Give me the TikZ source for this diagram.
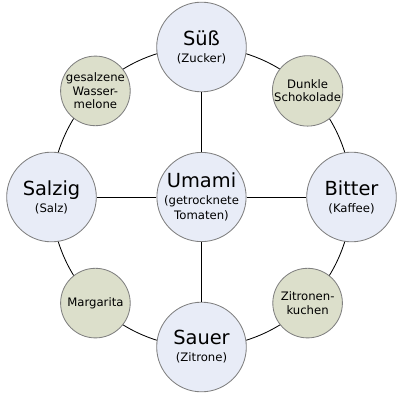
\documentclass[tikz,border=0pt]{standalone}
\usepackage{fontspec}
\setmainfont{DejaVu Sans}
\definecolor{tastefill}{HTML}{E8ECF7}
\definecolor{foodfill}{HTML}{DCDFCB}
\definecolor{rimgray}{HTML}{808080}
\newcommand{\bigfont}{\fontsize{13.8}{13}\selectfont}
\newcommand{\subfont}{\fontsize{8.3}{9.6}\selectfont}
\tikzset{
	taste/.style={circle, draw=rimgray, fill=tastefill, line width=0.6pt, minimum size=2.24cm, inner sep=0pt, align=center},
	food/.style={circle, draw=rimgray, fill=foodfill, line width=0.6pt, minimum size=1.74cm, inner sep=0pt, align=center, font=\subfont},
	link/.style={draw=black, line width=0.6pt}
}

\begin{document}
\begin{tikzpicture}[x=0.025cm, y=-0.025cm]
	\useasboundingbox (0,0) rectangle (400,400);
	\coordinate (mid) at (201.5,197);
	\draw[link] (mid) circle [radius=150];
	\node[taste, minimum size=2.16cm] (umami) at (mid) {\bigfont Umami\\\subfont (getrocknete\\[-1.2pt]\subfont Tomaten)};
	\node[taste] (suess) at (201.5,47) {\bigfont Süß\\\subfont (Zucker)};
	\node[taste] (bitter) at (351.5,197) {\bigfont Bitter\\\subfont (Kaffee)};
	\node[taste] (sauer) at (201.5,347) {\bigfont Sauer\\\subfont (Zitrone)};
	\node[taste] (salzig) at (51.5,197) {\bigfont Salzig\\\subfont (Salz)};
	\node[food] (melone) at (95.4,90.9) {gesalzene\\Wasser-\\melone};
	\node[food] (schoko) at (307.6,90.9) {Dunkle\\Schokolade};
	\node[food] (kuchen) at (307.6,303.1) {Zitronen-\\kuchen};
	\node[food] (marga) at (95.4,303.1) {Margarita};
	\draw[link] (umami) -- (suess);
	\draw[link] (umami) -- (bitter);
	\draw[link] (umami) -- (sauer);
	\draw[link] (umami) -- (salzig);
\end{tikzpicture}
\end{document}
